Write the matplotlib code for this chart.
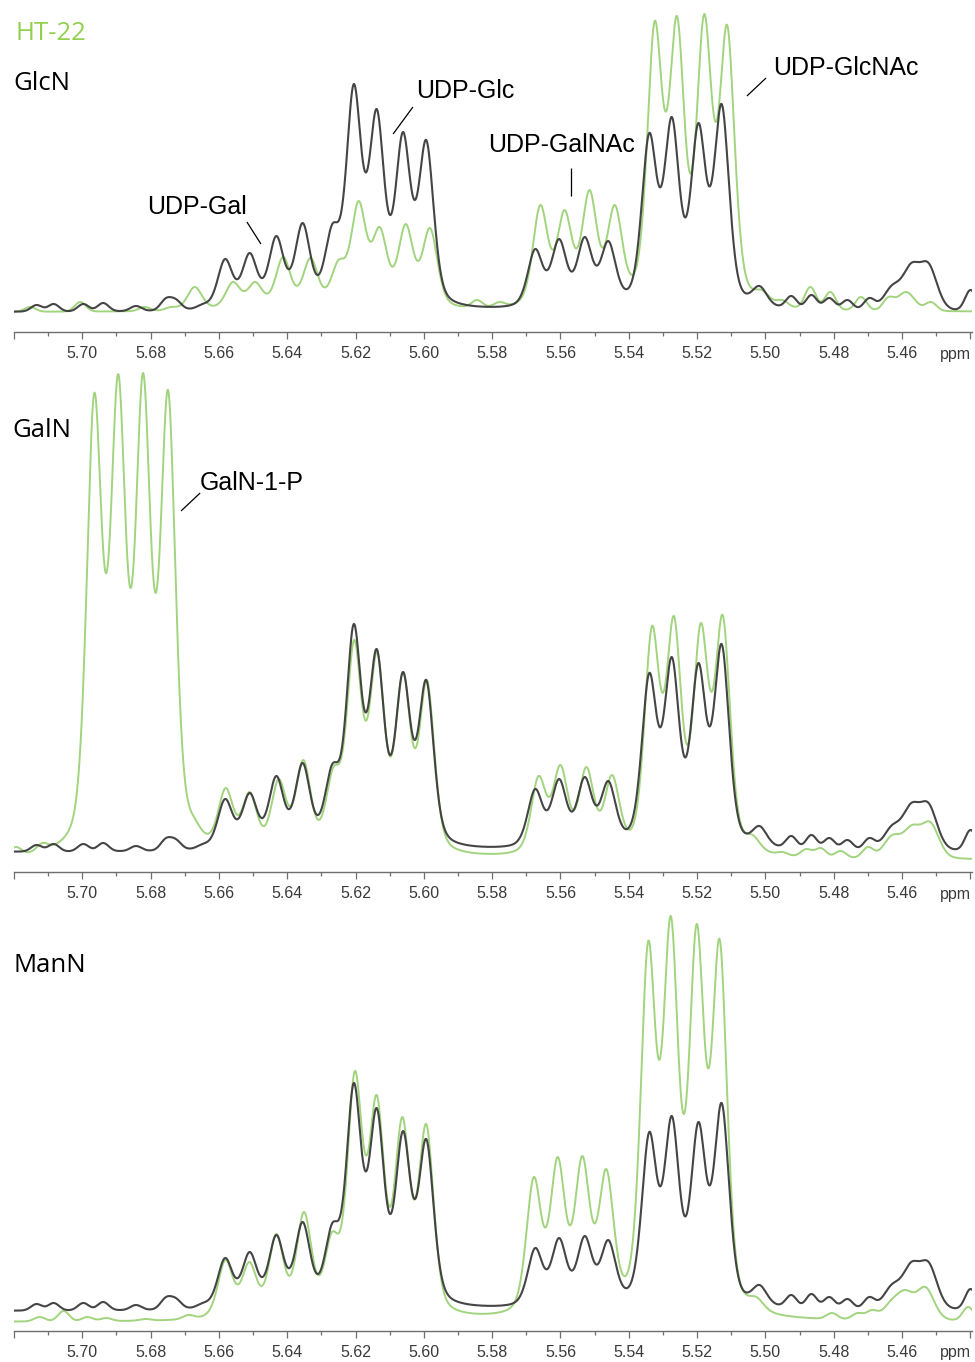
import matplotlib
matplotlib.use("Agg")
import matplotlib.pyplot as plt
import numpy as np
from matplotlib.ticker import FixedLocator, FixedFormatter, MultipleLocator

# 1H NMR, anomeric region of the UDP-sugars / hexosamine-1-P (ppm, intensity a.u.)
PPM_LEFT, PPM_RIGHT = 5.7200, 5.4395
LINE_HW, LINE_ETA = 0.0026, 0.4        # multiplet lines: half width, Lorentzian fraction
RIPPLE_HW, RIPPLE_ETA = 0.0019, 0.0    # baseline ripple
HUMP_HW, HUMP_ETA = 0.0030, 0.2        # broad feature near 5.455 ppm

# untreated control (black), the same spectrum in every panel
CTRL_BASE = 20
CTRL_LINE_PPM = [5.6582, 5.6510, 5.6432, 5.6355, 5.6268, 5.6205, 5.6138, 5.6061, 5.5993,
                 5.5674, 5.5604, 5.5529, 5.5460, 5.5340, 5.5274, 5.5196, 5.5128, 5.5017]
CTRL_LINE_INT = [73, 79, 96, 109, 108, 248, 223, 200, 192,
                 83, 93, 95, 91, 199, 215, 209, 228, 46]
CTRL_RIPPLE_PPM = [5.7134, 5.7084, 5.6997, 5.6939, 5.6843, 5.6755, 5.6726, 5.6648,
                   5.5737, 5.4924, 5.4865, 5.4813, 5.4760, 5.4696, 5.4399]
CTRL_RIPPLE_INT = [27, 28, 28, 29, 26, 34, 33, 28,
                   27, 36, 37, 34, 32, 34, 42]
CTRL_HUMP_PPM = [5.4629, 5.4573, 5.4522]
CTRL_HUMP_INT = [47, 69, 69]

# HT-22 cells fed GlcN (green)
GLCN_BASE = 20
GLCN_LINE_PPM = [5.6671, 5.6559, 5.6494, 5.6412, 5.6332, 5.6250, 5.6191, 5.6129, 5.6053, 5.5982,
                 5.5659, 5.5588, 5.5515, 5.5441, 5.5324, 5.5259, 5.5179, 5.5112, 5.5010]
GLCN_LINE_INT = [45, 50, 50, 75, 74, 72, 131, 105, 108, 104,
                 127, 122, 142, 127, 311, 316, 318, 307, 42]
GLCN_RIPPLE_PPM = [5.7153, 5.7006, 5.6818, 5.6741, 5.5844, 5.5779,
                   5.4950, 5.4868, 5.4810, 5.4720, 5.4640, 5.4515]
GLCN_RIPPLE_INT = [25, 30, 25, 25, 32, 30,
                   32, 45, 40, 35, 35, 30]
GLCN_HUMP_PPM = [5.4588]
GLCN_HUMP_INT = [40]

# HT-22 cells fed GalN (green)
GALN_BASE = 12
GALN_LINE_PPM = [5.6965, 5.6895, 5.6822, 5.6749, 5.6673, 5.6612, 5.6580, 5.6510, 5.6425, 5.6353,
                 5.6265, 5.6204, 5.6137, 5.6061, 5.5991, 5.5664, 5.5600, 5.5524, 5.5449,
                 5.5332, 5.5268, 5.5189, 5.5125, 5.5037]
GALN_LINE_INT = [479, 498, 499, 482, 55, 45, 84, 80, 93, 112,
                 105, 232, 220, 200, 192, 96, 107, 105, 97,
                 246, 256, 249, 257, 37]
GALN_RIPPLE_PPM = [5.7195, 5.7117, 5.5845, 5.5790, 5.4950, 5.4880, 5.4838, 5.4780, 5.4700]
GALN_RIPPLE_INT = [25, 29, 15, 14, 20, 23, 24, 21, 25]
GALN_HUMP_PPM = [5.4629, 5.4571, 5.4517]
GALN_HUMP_INT = [37, 47, 50]

# HT-22 cells fed ManN (green)
MANN_BASE = 9
MANN_LINE_PPM = [5.6581, 5.6511, 5.6432, 5.6351, 5.6269, 5.6202, 5.6138, 5.6063, 5.5993,
                 5.5678, 5.5608, 5.5536, 5.5466, 5.5343, 5.5277, 5.5201, 5.5134, 5.5026]
MANN_LINE_INT = [71, 69, 97, 119, 99, 260, 236, 214, 207,
                 154, 174, 175, 162, 390, 415, 407, 392, 34]
MANN_RIPPLE_PPM = [5.7125, 5.7055, 5.6985, 5.6930, 5.6815, 5.6690, 5.5850, 5.5780,
                   5.4805, 5.4730, 5.4689, 5.4406]
MANN_RIPPLE_INT = [14, 20, 14, 13, 12, 16, 13, 12,
                   18, 18, 21, 24]
MANN_HUMP_PPM = [5.4632, 5.4590, 5.4531]
MANN_HUMP_INT = [31, 41, 44]

MAJOR_TICKS = [5.72, 5.70, 5.68, 5.66, 5.64, 5.62, 5.60, 5.58, 5.56, 5.54, 5.52, 5.50, 5.48, 5.46, 5.44]
MAJOR_LABELS = ["", "5.70", "5.68", "5.66", "5.64", "5.62", "5.60", "5.58",
                "5.56", "5.54", "5.52", "5.50", "5.48", "5.46", ""]

COLOR_CTRL = "#3b3b3b"
COLOR_FED = "#a2d47f"
COLOR_HT22 = "#92d050"
AXIS_GREY = "#6e6e6e"
TICK_TEXT = "#3a3a3a"

W, H = 975, 1362


def build_spectrum(ppm, base, groups):
    """Pseudo-Voigt lines scaled so the summed trace passes through the listed intensities."""
    centers = np.concatenate([np.asarray(c, float) for c, _, _, _ in groups])
    targets = np.concatenate([np.asarray(h, float) for _, h, _, _ in groups]) - base
    widths = np.concatenate([np.full(len(c), w) for c, _, w, _ in groups])
    etas = np.concatenate([np.full(len(c), e) for c, _, _, e in groups])

    def shape(x):
        u = ((x[:, None] - centers[None, :]) / widths[None, :]) ** 2
        return etas * (1.0 / (1.0 + u)) + (1.0 - etas) * np.exp(-np.log(2.0) * u)

    m = shape(centers)
    amp = np.clip(targets, 0, None)
    for _ in range(1500):
        amp = np.clip(amp + 0.5 * (targets - m @ amp), 0, None)
    return base + shape(ppm) @ amp


def px_axes(fig, left, top, right, bottom):
    return fig.add_axes([left / W, 1 - bottom / H, (right - left) / W, (bottom - top) / H])


def style_axis(ax, ytop):
    ax.set_xlim(PPM_LEFT, PPM_RIGHT)
    ax.set_ylim(0, ytop)
    ax.patch.set_alpha(0)
    for side in ("top", "left", "right"):
        ax.spines[side].set_visible(False)
    ax.spines["bottom"].set_color(AXIS_GREY)
    ax.spines["bottom"].set_linewidth(1.0)
    ax.set_yticks([])
    ax.xaxis.set_major_locator(FixedLocator(MAJOR_TICKS))
    ax.xaxis.set_major_formatter(FixedFormatter(MAJOR_LABELS))
    ax.xaxis.set_minor_locator(MultipleLocator(0.01))
    ax.tick_params(axis="x", which="major", direction="out", length=5, width=0.9,
                   color=AXIS_GREY, labelsize=11.5, labelcolor=TICK_TEXT, pad=5)
    ax.tick_params(axis="x", which="minor", direction="out", length=3, width=0.9, color=AXIS_GREY)
    for lab in ax.get_xticklabels():
        lab.set_fontfamily("Liberation Sans")
    ax.annotate("ppm", xy=(1.0, 0.0), xycoords="axes fraction", xytext=(-17, -22),
                textcoords="offset pixels", ha="center", va="center",
                fontsize=11.5, color=TICK_TEXT, family="Liberation Sans")


def label_peak(ax, text, text_xy, seg_from, seg_to):
    ax.text(text_xy[0], text_xy[1], text, ha="left", va="baseline", fontsize=18,
            family="Liberation Sans", color="black")
    ax.plot([seg_from[0], seg_to[0]], [seg_from[1], seg_to[1]], color="black", lw=0.9,
            solid_capstyle="butt")


def spectrum_groups(lines, ripple, hump):
    return [
        (lines[0], lines[1], LINE_HW, LINE_ETA),
        (ripple[0], ripple[1], RIPPLE_HW, RIPPLE_ETA),
        (hump[0], hump[1], HUMP_HW, HUMP_ETA),
    ]


def main():
    ppm = np.linspace(PPM_LEFT + 0.001, PPM_RIGHT - 0.001, 4000)
    control = build_spectrum(ppm, CTRL_BASE, spectrum_groups(
        (CTRL_LINE_PPM, CTRL_LINE_INT), (CTRL_RIPPLE_PPM, CTRL_RIPPLE_INT), (CTRL_HUMP_PPM, CTRL_HUMP_INT)))
    glcn = build_spectrum(ppm, GLCN_BASE, spectrum_groups(
        (GLCN_LINE_PPM, GLCN_LINE_INT), (GLCN_RIPPLE_PPM, GLCN_RIPPLE_INT), (GLCN_HUMP_PPM, GLCN_HUMP_INT)))
    galn = build_spectrum(ppm, GALN_BASE, spectrum_groups(
        (GALN_LINE_PPM, GALN_LINE_INT), (GALN_RIPPLE_PPM, GALN_RIPPLE_INT), (GALN_HUMP_PPM, GALN_HUMP_INT)))
    mann = build_spectrum(ppm, MANN_BASE, spectrum_groups(
        (MANN_LINE_PPM, MANN_LINE_INT), (MANN_RIPPLE_PPM, MANN_RIPPLE_INT), (MANN_HUMP_PPM, MANN_HUMP_INT)))

    fig = plt.figure(figsize=(W / 100, H / 100), dpi=100, facecolor="white")

    ax_top = px_axes(fig, 14, 0, 972, 332)
    ax_mid = px_axes(fig, 14, 362, 972, 872)
    ax_bot = px_axes(fig, 14, 880, 972, 1331)

    for ax, fed, ytop in ((ax_top, glcn, 332), (ax_mid, galn, 510), (ax_bot, mann, 451)):
        ax.plot(ppm, fed, color=COLOR_FED, lw=1.4, zorder=2)
        ax.plot(ppm, control, color=COLOR_CTRL, lw=1.5, zorder=3, alpha=0.95)
        style_axis(ax, ytop)

    label_peak(ax_top, "UDP-Gal", (5.6811, 118), (5.6518, 110), (5.6477, 88))
    label_peak(ax_top, "UDP-Glc", (5.6023, 234), (5.6032, 225), (5.6090, 198))
    label_peak(ax_top, "UDP-GalNAc", (5.5812, 180), (5.5569, 164), (5.5569, 136))
    label_peak(ax_top, "UDP-GlcNAc", (5.4977, 257), (5.4998, 254), (5.5054, 236))
    label_peak(ax_mid, "GalN-1-P", (5.6655, 382), (5.6655, 379), (5.6711, 361))

    fig.text(15 / W, 1 - 40 / H, "HT-22", ha="left", va="baseline", fontsize=18.5,
             family="Open Sans", color=COLOR_HT22)
    for x, y, name in ((13, 90, "GlcN"), (12, 437, "GalN"), (14, 972, "ManN")):
        fig.text(x / W, 1 - y / H, name, ha="left", va="baseline", fontsize=18.5,
                 family="Open Sans", color="black")

    fig.savefig("out.png", dpi=100, facecolor="white")
    plt.close(fig)


if __name__ == "__main__":
    main()
